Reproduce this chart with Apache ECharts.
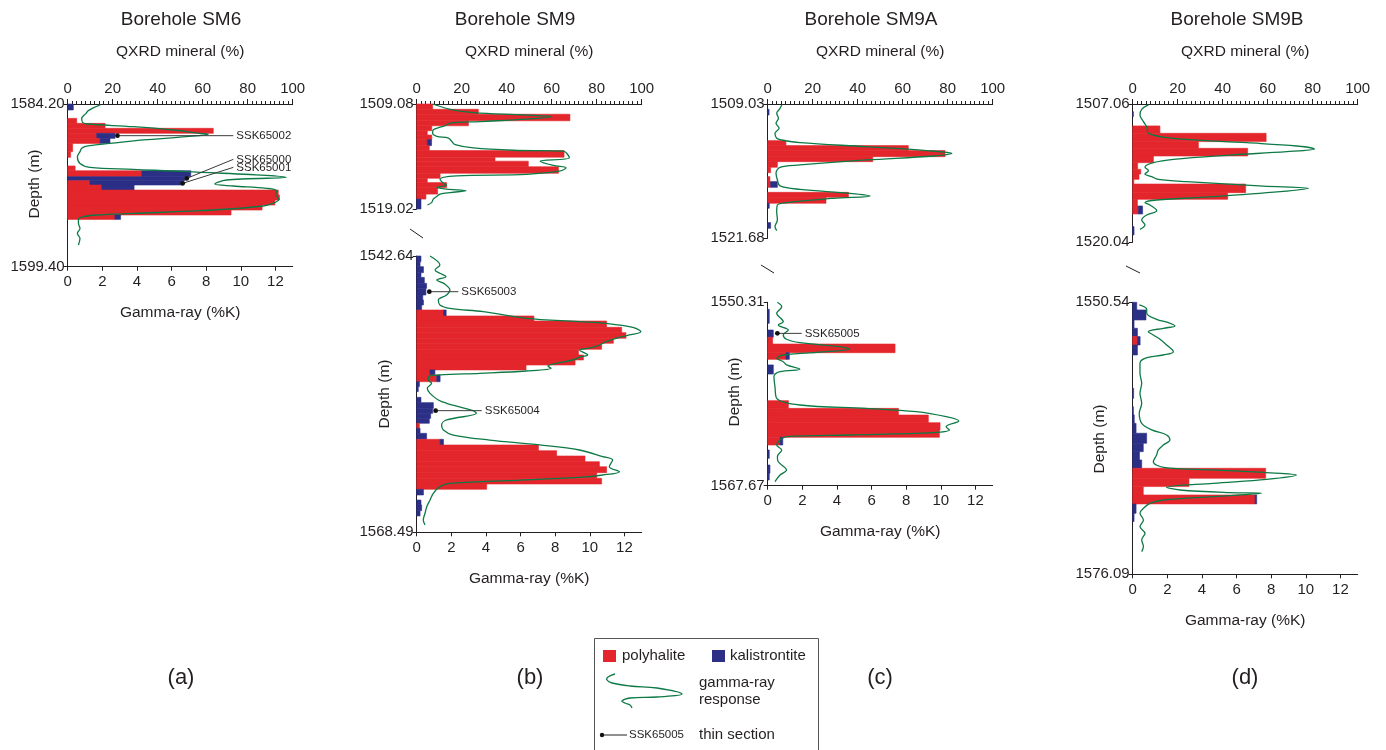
<!DOCTYPE html>
<html>
<head>
<meta charset="utf-8">
<script src="https://cdn.jsdelivr.net/npm/echarts@6.0.0/dist/echarts.min.js"></script>
<style>
html, body { margin: 0; background: #fff; }
#chart { width: 1386px; height: 750px; }
</style>
</head>
<body>
<div id="chart"></div>
<script>
// tick values
var qxrdTicks = [0, 20, 40, 60, 80, 100];
var gammaTicks = [0, 2, 4, 6, 8, 10, 12];

// SM6 - sample intervals (depth bounds), polyhalite %, kalistrontite %
var sm6Bounds = [1584.20, 1584.76, 1585.54, 1586.01, 1586.47, 1586.94, 1587.41, 1587.88, 1588.65, 1589.18, 1589.99, 1590.43, 1590.99, 1591.37, 1591.77, 1592.24, 1592.70, 1593.17, 1593.64, 1594.11, 1594.57, 1594.98];
var sm6Poly = [0, 0, 4.0, 16.6, 64.7, 12.9, 14.4, 2.2, 1.3, 0, 3.3, 32.9, 0, 9.9, 15.1, 93.6, 94.1, 92.1, 86.4, 72.6, 21.0];
var sm6Kali = [2.5, 0, 0, 0, 0, 8.1, 4.4, 0, 0, 0, 0, 21.8, 52.0, 41.5, 14.4, 0, 0, 0, 0, 0, 2.5];
var sm6GrDepth = [1584.29, 1584.82, 1585.07, 1585.54, 1585.94, 1586.07, 1586.32, 1586.63, 1586.94, 1587.03, 1587.25, 1587.56, 1587.88, 1588.13, 1588.34, 1588.65, 1589.12, 1589.75, 1590.12, 1590.31, 1590.52, 1591.05, 1591.30, 1591.68, 1591.86, 1592.08, 1592.30, 1592.70, 1593.11, 1593.33, 1593.73, 1594.17, 1594.42, 1594.57, 1594.73, 1594.98, 1595.35, 1595.82, 1596.29, 1596.75, 1597.38];
var sm6GrValue = [1.87, 1.19, 1.06, 0.81, 0.87, 1.13, 3.79, 6.10, 7.63, 8.12, 6.87, 4.37, 2.44, 1.10, 0.81, 0.71, 0.56, 0.71, 1.29, 3.79, 6.87, 12.63, 9.17, 8.50, 9.56, 11.48, 12.06, 12.02, 12.21, 12.06, 11.29, 7.63, 3.79, 1.67, 0.90, 0.62, 0.62, 0.71, 0.56, 0.71, 0.62];
// thin sections: name, depth, %, label depth, label %
var sm6Thin = [
    ['SSK65002', 1587.16, 22.1, 1587.16, 73.6],
    ['SSK65000', 1591.15, 52.9, 1589.37, 73.6],
    ['SSK65001', 1591.61, 51.1, 1590.12, 73.6]
];

// SM9 upper section
var sm9UpBounds = [1509.08, 1509.58, 1510.05, 1510.67, 1511.14, 1511.61, 1512.02, 1512.46, 1513.02, 1513.49, 1514.11, 1514.49, 1515.02, 1515.64, 1516.11, 1516.52, 1516.99, 1517.61, 1518.08, 1519.02];
var sm9UpPoly = [7.1, 27.4, 68.1, 23.0, 6.7, 4.7, 6.7, 4.7, 5.6, 65.5, 34.8, 49.6, 63.0, 10.4, 4.7, 13.3, 9.3, 4.1, 0];
var sm9UpKali = [0, 0, 0, 0, 0, 0, 0, 1.9, 0, 0, 0, 0, 0, 0, 0, 0, 0, 0, 1.9];
var sm9UpGrDepth = [1509.08, 1509.58, 1509.89, 1510.11, 1510.27, 1510.52, 1510.74, 1510.89, 1511.14, 1511.27, 1511.52, 1511.83, 1512.14, 1512.30, 1512.61, 1512.92, 1513.24, 1513.46, 1513.55, 1514.17, 1514.49, 1514.89, 1515.11, 1515.42, 1515.74, 1515.89, 1516.21, 1516.58, 1516.77, 1516.99, 1517.14, 1517.30, 1517.46, 1517.61, 1517.83, 1518.08, 1518.39, 1518.64];
var sm9UpGrValue = [0.92, 1.93, 3.28, 6.17, 7.80, 6.36, 3.66, 1.93, 1.64, 1.35, 0.96, 0.92, 1.16, 1.83, 2.02, 2.22, 3.28, 5.59, 8.48, 8.82, 7.13, 7.90, 8.63, 8.29, 6.36, 2.31, 1.35, 1.54, 1.73, 1.16, 1.73, 2.85, 1.93, 1.35, 1.16, 0.96, 0.87, 0.62];

// SM9 lower section
var sm9LoBounds = [1542.64, 1543.17, 1543.64, 1544.20, 1544.64, 1545.20, 1545.66, 1546.29, 1546.76, 1547.22, 1547.69, 1548.25, 1548.72, 1549.31, 1549.81, 1550.34, 1550.81, 1551.37, 1551.90, 1552.37, 1552.84, 1553.30, 1553.77, 1554.40, 1554.86, 1555.33, 1555.86, 1556.36, 1556.89, 1557.36, 1557.83, 1558.29, 1558.76, 1559.23, 1559.79, 1560.32, 1560.85, 1561.35, 1561.88, 1562.35, 1562.91, 1563.44, 1563.97, 1564.47, 1565.00, 1565.47, 1565.93, 1566.46, 1566.96];
var sm9LoPoly = [0, 0, 0, 0, 0, 0, 0, 0, 0, 0,
    11.9, 52.1, 84.4, 91.1, 93.0, 87.4, 82.2, 71.9, 74.1, 70.4,
    48.6, 5.9, 8.9, 0, 0, 0, 0, 0, 0, 0,
    0, 1.2, 0, 0, 10.4, 54.1, 62.2, 74.8, 81.2, 84.4,
    80.0, 82.2, 31.1, 0, 0, 0, 0, 0];
var sm9LoKali = [1.9, 1.5, 3.0, 1.9, 3.4, 4.4, 4.1, 2.7, 3.0, 2.2,
    1.2, 0, 0, 0, 0, 0, 0, 0, 0, 0,
    0, 2.2, 1.5, 1.2, 0.7, 0, 1.9, 7.4, 7.1, 6.2,
    5.6, 0, 1.5, 4.4, 1.5, 0, 0, 0, 0, 0,
    0, 0, 0, 3.0, 0, 1.9, 2.2, 1.5];
var sm9LoGrDepth = [1542.64, 1543.48, 1543.95, 1544.26, 1544.57, 1544.89, 1545.20, 1545.82, 1546.29, 1546.76, 1547.22, 1547.54, 1547.85, 1548.47, 1548.78, 1548.94, 1549.31, 1549.72, 1550.03, 1550.34, 1550.65, 1550.97, 1551.28, 1551.43, 1551.90, 1552.06, 1552.37, 1552.68, 1552.93, 1553.15, 1553.40, 1553.62, 1553.77, 1553.93, 1554.24, 1554.55, 1555.02, 1555.49, 1556.11, 1556.42, 1557.11, 1557.36, 1557.98, 1558.45, 1558.92, 1559.39, 1559.86, 1560.32, 1560.79, 1561.41, 1561.72, 1562.35, 1562.82, 1563.13, 1563.35, 1563.66, 1563.91, 1564.22, 1564.84, 1565.47, 1566.09, 1566.71, 1567.34, 1567.80];
var sm9LoGrValue = [0.77, 1.34, 1.06, 1.34, 1.69, 1.15, 1.57, 1.92, 1.73, 1.25, 1.34, 1.92, 3.84, 6.33, 9.40, 10.94, 12.48, 12.95, 12.28, 11.52, 10.94, 10.56, 9.88, 9.40, 9.88, 9.50, 9.02, 8.06, 7.58, 7.77, 6.33, 3.65, 1.34, 0.67, 0.67, 0.86, 0.61, 0.77, 1.25, 1.73, 3.26, 3.45, 1.73, 1.44, 1.54, 2.11, 4.22, 7.10, 9.40, 10.75, 11.32, 11.13, 11.71, 10.75, 9.40, 5.18, 1.92, 1.34, 0.96, 0.77, 0.58, 0.48, 0.38, 0.48];
var sm9Thin = [
    ['SSK65003', 1545.98, 5.6, 1545.98, 18.5],
    ['SSK65004', 1557.11, 8.4, 1557.11, 28.9]
];

// SM9A upper section
var sm9aUpBounds = [1509.03, 1509.53, 1510.07, 1512.48, 1512.95, 1513.42, 1513.99, 1514.46, 1514.99, 1515.50, 1515.87, 1516.34, 1516.88, 1517.35, 1517.82, 1518.38, 1518.85, 1520.20, 1520.74];
var sm9aUpPoly = [0, 0, 0, 8.1, 62.5, 78.8, 46.7, 4.3, 1.3, 0, 1.0, 1.3, 0, 35.9, 25.9, 0, 0, 0];
var sm9aUpKali = [0, 0.6, 0, 0, 0, 0, 0, 0, 0, 0, 0, 3.0, 0, 0, 0, 0.7, 0, 1.3];
var sm9aUpGrDepth = [1509.12, 1509.44, 1509.91, 1510.38, 1510.85, 1511.32, 1511.79, 1512.26, 1512.42, 1512.67, 1513.05, 1513.42, 1513.68, 1513.93, 1514.30, 1514.77, 1514.99, 1515.56, 1516.19, 1516.75, 1517.07, 1517.44, 1517.69, 1517.91, 1518.32, 1518.54, 1519.17, 1519.95, 1520.58, 1520.96];
var sm9aUpGrValue = [0.81, 0.71, 0.52, 0.62, 0.48, 0.66, 0.42, 0.52, 0.81, 1.87, 5.72, 9.19, 10.64, 9.58, 5.72, 1.87, 0.71, 0.48, 0.56, 0.71, 1.87, 4.76, 5.92, 3.80, 1.10, 0.56, 0.52, 0.56, 0.42, 0.52];

// SM9A lower section
var sm9aLoBounds = [1550.31, 1550.97, 1552.30, 1552.93, 1553.62, 1554.26, 1555.08, 1555.71, 1556.24, 1557.10, 1559.62, 1560.35, 1560.98, 1561.70, 1562.40, 1563.09, 1563.82, 1564.29, 1565.08, 1565.71, 1566.50, 1567.13];
var sm9aLoPoly = [0, 0, 0, 0, 2.2, 56.6, 8.1, 0, 0, 0, 9.2, 58.1, 71.4, 76.6, 76.3, 5.5, 0, 0, 0, 0, 0];
var sm9aLoKali = [0, 0.7, 0, 2.5, 0, 0, 1.5, 0, 2.5, 0, 0, 0, 0, 0, 0, 1.2, 0, 0.7, 0, 1.0, 0.7];
var sm9aLoGrDepth = [1550.31, 1550.72, 1551.35, 1552.14, 1552.46, 1552.93, 1553.40, 1553.81, 1554.13, 1554.51, 1554.73, 1554.98, 1555.30, 1555.61, 1555.93, 1556.24, 1556.65, 1556.88, 1557.35, 1558.30, 1559.40, 1560.03, 1560.35, 1560.66, 1561.14, 1561.55, 1562.08, 1562.40, 1562.65, 1562.87, 1563.03, 1563.35, 1563.82, 1564.29, 1564.92, 1565.40, 1566.19, 1566.66, 1567.29];
var sm9aLoGrValue = [0.56, 0.81, 0.52, 0.90, 0.61, 1.19, 0.90, 1.09, 1.86, 4.17, 4.74, 3.40, 0.90, 0.52, 0.90, 1.09, 1.86, 0.71, 0.36, 0.42, 0.52, 1.86, 5.70, 8.58, 10.31, 11.04, 10.31, 10.50, 9.54, 4.74, 1.09, 0.71, 0.52, 0.81, 0.56, 0.61, 1.09, 0.71, 0.42];
var sm9aThin = [
    ['SSK65005', 1553.25, 4.3, 1553.25, 15.1]
];

// SM9B upper section
var sm9bUpBounds = [1507.06, 1507.78, 1508.25, 1509.12, 1509.81, 1510.59, 1511.22, 1511.94, 1512.57, 1513.19, 1513.63, 1514.13, 1514.57, 1515.38, 1516.01, 1516.63, 1517.38, 1518.57, 1519.35];
var sm9bUpPoly = [0, 0, 0, 12.1, 59.3, 29.2, 51.1, 9.2, 2.2, 3.6, 2.8, 0.5, 50.2, 42.2, 2.1, 2.5, 0, 0];
var sm9bUpKali = [0, 0.3, 0, 0, 0, 0, 0, 0, 0, 0, 0, 0, 0, 0, 0, 1.9, 0, 0.6];
var sm9bUpGrDepth = [1507.15, 1507.56, 1508.09, 1508.72, 1509.19, 1509.81, 1510.28, 1510.69, 1511.00, 1511.28, 1511.53, 1511.85, 1512.25, 1512.57, 1513.00, 1513.32, 1513.63, 1513.88, 1514.13, 1514.35, 1514.76, 1514.97, 1515.29, 1515.76, 1516.07, 1516.32, 1516.54, 1517.07, 1517.48, 1517.95, 1518.41, 1518.82];
var sm9bUpGrValue = [0.91, 0.52, 0.42, 0.62, 0.81, 0.91, 2.35, 6.59, 9.48, 10.50, 8.90, 5.63, 2.35, 1.19, 0.71, 0.91, 0.71, 1.10, 1.48, 3.12, 7.55, 10.15, 8.52, 4.66, 1.39, 0.71, 1.00, 1.39, 0.81, 0.52, 0.71, 0.42];

// SM9B lower section
var sm9bLoBounds = [1550.54, 1551.26, 1552.20, 1552.98, 1553.76, 1554.55, 1555.49, 1558.62, 1559.56, 1560.34, 1561.12, 1561.91, 1562.84, 1563.78, 1564.57, 1565.35, 1566.13, 1567.07, 1567.85, 1568.64, 1569.48, 1570.36, 1571.14];
var sm9bLoPoly = [0, 0, 0, 0, 2.1, 0, 0, 0, 0, 0, 0, 0, 0, 0, 0, 0, 59.1, 25.0, 4.7, 54.4, 0, 0];
var sm9bLoKali = [1.8, 5.9, 0.6, 2.1, 1.2, 2.1, 0, 0.4, 0, 0.3, 0.7, 1.5, 6.2, 4.7, 3.0, 4.0, 0, 0, 0, 0.7, 1.5, 0.6];
var sm9bLoGrDepth = [1550.79, 1551.20, 1551.57, 1552.14, 1552.45, 1552.76, 1552.98, 1553.30, 1553.61, 1554.02, 1554.55, 1555.18, 1555.49, 1555.80, 1556.27, 1557.21, 1558.15, 1559.09, 1560.03, 1560.97, 1561.91, 1562.53, 1563.00, 1563.47, 1563.94, 1564.41, 1564.88, 1565.51, 1566.04, 1566.29, 1566.54, 1566.76, 1567.17, 1567.54, 1567.92, 1568.17, 1568.42, 1568.48, 1568.79, 1569.11, 1569.42, 1569.89, 1570.36, 1570.98, 1571.61, 1572.24, 1572.86, 1573.49, 1573.96];
var sm9bLoGrValue = [0.38, 0.81, 0.81, 1.38, 2.06, 2.44, 1.77, 0.90, 1.19, 1.58, 1.96, 2.35, 1.77, 0.71, 0.42, 0.42, 0.52, 0.42, 0.52, 0.38, 0.52, 1.10, 1.96, 2.15, 1.77, 1.48, 1.38, 1.19, 1.77, 4.65, 7.73, 9.46, 7.73, 4.65, 1.96, 2.73, 5.62, 7.44, 4.65, 1.77, 1.00, 0.62, 0.42, 0.62, 0.42, 0.71, 0.52, 0.62, 0.52];

var FONT = '"Liberation Sans", Arial, Helvetica, sans-serif';
var INK = '#231f20';
var RED = '#e3262c';
var BLUE = '#2b2f86';
var GREEN = '#0d7a46';

// plot boxes (one per depth section)
var grids = [
    { left: 67.7, top: 104, width: 225, height: 162.7 },
    { left: 416.7, top: 104, width: 225, height: 105 },
    { left: 416.7, top: 256, width: 225, height: 276.3 },
    { left: 767.7, top: 104, width: 225, height: 134.3 },
    { left: 767.7, top: 302.3, width: 225, height: 183.4 },
    { left: 1132.7, top: 104, width: 225, height: 138.3 },
    { left: 1132.7, top: 302.3, width: 225, height: 272 }
].map(function (g) {
    g.outerBoundsMode = 'none';
    g.containLabel = false;
    return g;
});

var blocks = [
    { min: 1584.20, max: 1599.40, top: true, bottom: true, bounds: sm6Bounds, poly: sm6Poly, kali: sm6Kali, grD: sm6GrDepth, grV: sm6GrValue, thin: sm6Thin },
    { min: 1509.08, max: 1519.02, top: true, bottom: false, bounds: sm9UpBounds, poly: sm9UpPoly, kali: sm9UpKali, grD: sm9UpGrDepth, grV: sm9UpGrValue, thin: [] },
    { min: 1542.64, max: 1568.49, top: false, bottom: true, bounds: sm9LoBounds, poly: sm9LoPoly, kali: sm9LoKali, grD: sm9LoGrDepth, grV: sm9LoGrValue, thin: sm9Thin },
    { min: 1509.03, max: 1521.68, top: true, bottom: false, bounds: sm9aUpBounds, poly: sm9aUpPoly, kali: sm9aUpKali, grD: sm9aUpGrDepth, grV: sm9aUpGrValue, thin: [] },
    { min: 1550.31, max: 1567.67, top: false, bottom: true, bounds: sm9aLoBounds, poly: sm9aLoPoly, kali: sm9aLoKali, grD: sm9aLoGrDepth, grV: sm9aLoGrValue, thin: sm9aThin },
    { min: 1507.06, max: 1520.04, top: true, bottom: false, bounds: sm9bUpBounds, poly: sm9bUpPoly, kali: sm9bUpKali, grD: sm9bUpGrDepth, grV: sm9bUpGrValue, thin: [] },
    { min: 1550.54, max: 1576.09, top: false, bottom: true, bounds: sm9bLoBounds, poly: sm9bLoPoly, kali: sm9bLoKali, grD: sm9bLoGrDepth, grV: sm9bLoGrValue, thin: [] }
];

function txt(size) {
    return { fontFamily: FONT, fontSize: size, color: INK };
}

// stacked bars: polyhalite from 0, kalistrontite on top of it
function renderBars(params, api) {
    var d0 = api.value(0), d1 = api.value(1), p = api.value(2), k = api.value(3);
    var a = api.coord([0, d0]);
    var b = api.coord([p, d1]);
    var c = api.coord([p + k, d1]);
    var kids = [];
    if (p > 0) {
        kids.push({ type: 'rect', shape: { x: a[0], y: a[1], width: b[0] - a[0], height: b[1] - a[1] }, style: { fill: RED, stroke: RED, lineWidth: 0.6 } });
    }
    if (k > 0) {
        kids.push({ type: 'rect', shape: { x: b[0], y: a[1], width: c[0] - b[0], height: b[1] - a[1] }, style: { fill: BLUE, stroke: BLUE, lineWidth: 0.6 } });
    }
    return { type: 'group', children: kids };
}

function thinSeries(list, xi, yi) {
    return {
        type: 'custom', xAxisIndex: xi, yAxisIndex: yi, z: 5, silent: true,
        data: list.map(function (t) { return [t[1], t[2], t[3], t[4]]; }),
        renderItem: function (params, api) {
            var p = api.coord([api.value(1), api.value(0)]);
            var q = api.coord([api.value(3), api.value(2)]);
            var name = list[params.dataIndex][0];
            return {
                type: 'group', children: [
                    { type: 'line', shape: { x1: p[0], y1: p[1], x2: q[0], y2: q[1] }, style: { stroke: '#3a3a3a', lineWidth: 1 } },
                    { type: 'circle', shape: { cx: p[0], cy: p[1], r: 2.4 }, style: { fill: '#111' } },
                    { type: 'text', x: q[0] + 3, y: q[1], style: { text: name, fontFamily: FONT, fontSize: 11.5, fill: INK, align: 'left', verticalAlign: 'middle', textAlign: 'left', textVerticalAlign: 'middle' } }
                ]
            };
        }
    };
}

var xAxes = [], yAxes = [], series = [];
blocks.forEach(function (b, i) {
    xAxes.push({
        type: 'value', gridIndex: i, position: 'top', min: 0, max: 100, interval: 20, show: b.top,
        name: 'QXRD mineral (%)', nameLocation: 'middle', nameGap: 44, nameTextStyle: txt(15.5),
        axisLine: { show: true, onZero: false, lineStyle: { color: INK, width: 1 } },
        axisTick: { show: true, length: 5, lineStyle: { color: INK } },
        minorTick: { show: true, splitNumber: 10, length: 3, lineStyle: { color: INK } },
        axisLabel: Object.assign(txt(15), { margin: 8, customValues: qxrdTicks }),
        splitLine: { show: false }, minorSplitLine: { show: false }
    });
    xAxes.push({
        type: 'value', gridIndex: i, position: 'bottom', min: 0, max: 13, show: b.bottom,
        name: 'Gamma-ray (%K)', nameLocation: 'middle', nameGap: 38, nameTextStyle: txt(15.5),
        axisLine: { show: true, onZero: false, lineStyle: { color: INK, width: 1 } },
        axisTick: { show: true, length: 4, customValues: gammaTicks, lineStyle: { color: INK } },
        axisLabel: Object.assign(txt(15), { margin: 8, customValues: gammaTicks }),
        splitLine: { show: false }
    });
    yAxes.push({
        type: 'value', gridIndex: i, inverse: true, min: b.min, max: b.max,
        axisLine: { show: true, onZero: false, lineStyle: { color: INK, width: 1 } },
        axisTick: { show: true, length: 4, customValues: [b.min, b.max], lineStyle: { color: INK } },
        axisLabel: Object.assign(txt(15), {
            margin: 3, customValues: [b.min, b.max],
            formatter: function (v) { return v.toFixed(2); }
        }),
        splitLine: { show: false }
    });

    var rows = [];
    for (var j = 0; j < b.bounds.length - 1; j++) {
        rows.push([b.bounds[j], b.bounds[j + 1], b.poly[j], b.kali[j]]);
    }
    series.push({
        type: 'custom', xAxisIndex: 2 * i, yAxisIndex: i, z: 2, silent: true,
        encode: { x: 2, y: [0, 1] }, data: rows, renderItem: renderBars
    });
    series.push({
        type: 'line', xAxisIndex: 2 * i + 1, yAxisIndex: i, z: 3, silent: true,
        data: b.grD.map(function (d, j) { return [b.grV[j], d]; }),
        showSymbol: false, symbol: 'none', smooth: 0.35, clip: false,
        lineStyle: { color: GREEN, width: 1.3 }
    });
    if (b.thin.length) {
        series.push(thinSeries(b.thin, 2 * i, i));
    }
});

function label(text, x, y, size, rot) {
    return {
        type: 'text', x: x, y: y, rotation: rot || 0, silent: true,
        style: { text: text, fontFamily: FONT, fontSize: size, fill: INK, align: 'center', verticalAlign: 'middle', textAlign: 'center', textVerticalAlign: 'middle' }
    };
}
function leftText(text, x, y, size) {
    return {
        type: 'text', x: x, y: y, silent: true,
        style: { text: text, fontFamily: FONT, fontSize: size, fill: INK, align: 'left', verticalAlign: 'middle', textAlign: 'left', textVerticalAlign: 'middle' }
    };
}
function slash(x1, y1, x2, y2) {
    return { type: 'line', silent: true, shape: { x1: x1, y1: y1, x2: x2, y2: y2 }, style: { stroke: INK, lineWidth: 1 } };
}

var graphics = [
    label('Borehole SM6', 181, 20, 19),
    label('Borehole SM9', 515, 20, 19),
    label('Borehole SM9A', 871, 20, 19),
    label('Borehole SM9B', 1237, 20, 19),
    label('Depth (m)', 35, 184, 15.5, Math.PI / 2),
    label('Depth (m)', 385, 394, 15.5, Math.PI / 2),
    label('Depth (m)', 735, 392, 15.5, Math.PI / 2),
    label('Depth (m)', 1100, 439, 15.5, Math.PI / 2),
    label('(a)', 181, 678, 22),
    label('(b)', 530, 678, 22),
    label('(c)', 880, 678, 22),
    label('(d)', 1245, 678, 22),
    slash(410, 229, 423, 238),
    slash(761, 265, 774, 273),
    slash(1126, 266, 1140, 273),
    // legend
    { type: 'rect', silent: true, shape: { x: 594.5, y: 638.5, width: 224, height: 130 }, style: { fill: 'none', stroke: '#555', lineWidth: 1 } },
    { type: 'rect', silent: true, shape: { x: 603, y: 650, width: 13, height: 12 }, style: { fill: RED } },
    leftText('polyhalite', 622, 656, 15),
    { type: 'rect', silent: true, shape: { x: 712, y: 650, width: 13, height: 12 }, style: { fill: BLUE } },
    leftText('kalistrontite', 730, 656, 15),
    {
        type: 'polyline', silent: true,
        shape: { points: [[615, 674], [608, 677], [607, 680], [612, 683], [630, 686], [657, 688], [682, 694], [657, 697], [630, 698], [622, 701], [625, 703], [630, 705], [632, 708]], smooth: 0.4 },
        style: { stroke: GREEN, lineWidth: 1.3, fill: 'none' }
    },
    leftText('gamma-ray', 699, 683, 15),
    leftText('response', 699, 700, 15),
    slash(602, 735, 627, 735),
    { type: 'circle', silent: true, shape: { cx: 602, cy: 735, r: 2.2 }, style: { fill: '#111' } },
    leftText('SSK65005', 629, 735, 11.5),
    leftText('thin section', 699, 735, 15)
];

var myChart = echarts.init(document.getElementById('chart'), null, { renderer: 'canvas' });
myChart.setOption({
    animation: false,
    backgroundColor: '#fff',
    grid: grids,
    xAxis: xAxes,
    yAxis: yAxes,
    series: series,
    graphic: graphics
});
</script>
</body>
</html>
